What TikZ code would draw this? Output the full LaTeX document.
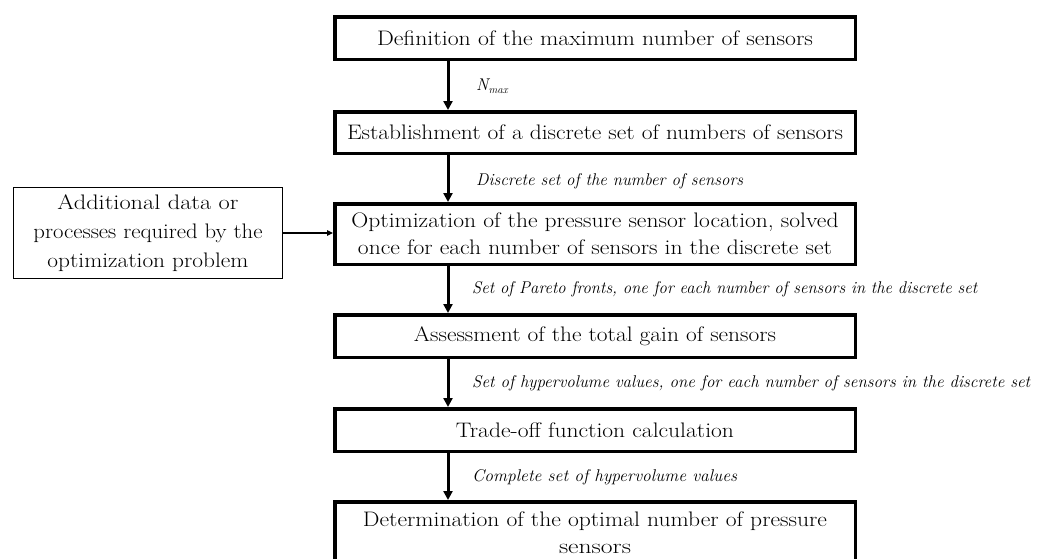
\documentclass[tikz,border=0pt]{standalone}
\usepackage{fontspec}
\usepackage{graphicx}
\usetikzlibrary{arrows.meta}
\newcommand{\fw}[2]{\resizebox{#1pt}{\height}{#2}}
\newcommand{\boxfont}{\fontsize{21}{27}\selectfont}
\newcommand{\sidefont}{\fontsize{21}{29}\selectfont}
\newcommand{\lblfont}{\fontsize{17}{18}\selectfont\itshape}
\begin{document}
\begin{tikzpicture}[x=1pt,y=-1pt,
  mainbox/.style={draw, line width=3.5pt, minimum width=520.5pt, inner sep=0pt, align=center, font=\boxfont},
  sidebox/.style={draw, line width=1.2pt, minimum width=268.8pt, minimum height=90.8pt, inner sep=0pt, align=center, font=\sidefont},
  mainarrow/.style={line width=3pt, -{Triangle[length=9pt,width=9pt]}},
  sidearrow/.style={line width=1.2pt, -{Triangle[length=6pt,width=5.5pt]}},
  lbl/.style={inner sep=0pt, anchor=west, font=\lblfont}
]
\useasboundingbox (0,0) rectangle (1046,558);
\clip (0,0) rectangle (1046,558);

\node[mainbox, minimum height=42.5pt] (b1) at (595,38) {\fw{436}{Definition of the maximum number of sensors}};
\node[mainbox, minimum height=41.5pt] (b2) at (595,132.5) {\fw{496}{Establishment of a discrete set of numbers of sensors}};
\node[mainbox, minimum height=60.5pt] (b3) at (595,234) {\fw{487}{Optimization of the pressure sensor location, solved}\\\fw{474}{once for each number of sensors in the discrete set}};
\node[mainbox, minimum height=42.5pt] (b4) at (595,336) {\fw{362}{Assessment of the total gain of sensors}};
\node[mainbox, minimum height=42.5pt] (b5) at (595,430) {\fw{278}{Trade-off function calculation}};
\node[mainbox, minimum height=62.5pt] (b6) at (595,533) {\fw{464}{Determination of the optimal number of pressure}\\\fw{72}{sensors}};

\node[sidebox] (s) at (148,233) {\fw{181}{Additional data or}\\\fw{229}{processes required by the}\\\fw{201}{optimization problem}};

\coordinate (ax) at (448,0);
\draw[mainarrow] (b1.south -| ax) -- (b2.north -| ax);
\draw[mainarrow] (b2.south -| ax) -- (b3.north -| ax);
\draw[mainarrow] (b3.south -| ax) -- (b4.north -| ax);
\draw[mainarrow] (b4.south -| ax) -- (b5.north -| ax);
\draw[mainarrow] (b5.south -| ax) -- (b6.north -| ax);
\draw[sidearrow] (s.east) -- (s.east -| b3.west);

\node[lbl] (l1) at (476,86) {N\raisebox{-0.35ex}{\fontsize{11}{12}\selectfont max}};
\node[lbl] (l2) at (476,181) {\fw{267}{Discrete set of the number of sensors}};
\node[lbl] (l3) at (472,289) {\fw{505}{Set of Pareto fronts, one for each number of sensors in the discrete set}};
\node[lbl] (l4) at (472,383) {\fw{558}{Set of hypervolume values, one for each number of sensors in the discrete set}};
\node[lbl] (l5) at (472,477) {\fw{265}{Complete set of hypervolume values}};
\end{tikzpicture}
\end{document}
